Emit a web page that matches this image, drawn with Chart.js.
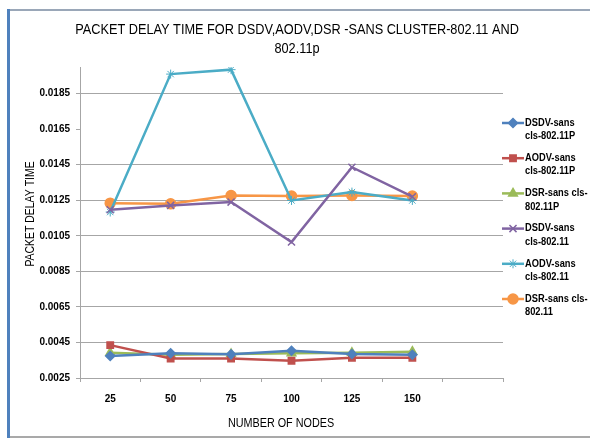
<!DOCTYPE html>
<html>
<head>
<meta charset="utf-8">
<script src="https://cdn.jsdelivr.net/npm/chart.js@4.4.1/dist/chart.umd.min.js"></script>
<style>
  html, body { margin: 0; padding: 0; background: #ffffff; }
  #wrap { width: 590px; height: 439px; position: relative; }
</style>
</head>
<body>
<div id="wrap"><canvas id="c" width="590" height="439"></canvas></div>
<script>
// Number of nodes (the trailing blank category leaves an empty slot on the right)
const nodeCounts = ['25', '50', '75', '100', '125', '150', ''];

// Packet delay time per protocol
const dsdv11p = [0.00374, 0.00389, 0.00383, 0.00403, 0.00385, 0.00381];
const aodv11p = [0.00435, 0.00360, 0.00360, 0.00347, 0.00364, 0.00364];
const dsr11p  = [0.00392, 0.00381, 0.00385, 0.00389, 0.00392, 0.00398];
const dsdv11  = [0.01197, 0.01221, 0.01240, 0.01015, 0.01436, 0.01270];
const aodv11  = [0.01184, 0.01960, 0.01985, 0.01249, 0.01296, 0.01249];
const dsr11   = [0.01234, 0.01230, 0.01277, 0.01274, 0.01277, 0.01274];

// Value axis ticks
const yTicks = [0.0025, 0.0045, 0.0065, 0.0085, 0.0105, 0.0125, 0.0145, 0.0165, 0.0185];

// Series names and their wrapped legend lines
const seriesNames = [
  'DSDV-sans cls-802.11P', 'AODV-sans cls-802.11P', 'DSR-sans cls-802.11P',
  'DSDV-sans cls-802.11', 'AODV-sans cls-802.11', 'DSR-sans cls-802.11'
];
const legendLines = [
  ['DSDV-sans', 'cls-802.11P'],
  ['AODV-sans', 'cls-802.11P'],
  ['DSR-sans cls-', '802.11P'],
  ['DSDV-sans', 'cls-802.11'],
  ['AODV-sans', 'cls-802.11'],
  ['DSR-sans cls-', '802.11']
];

const titleLines = ['PACKET DELAY TIME FOR DSDV,AODV,DSR -SANS CLUSTER-802.11 AND', '802.11p'];
const xTitle = 'NUMBER OF NODES';
const yTitle = 'PACKET DELAY TIME';

const sans = "'Liberation Sans', Arial, sans-serif";
const gridGray = '#a6a6a6';

const styles = [
  { color: '#4f81bd', point: 'rectRot',  radius: 4.5 },
  { color: '#c0504d', point: 'rect',     radius: 4.5 },
  { color: '#9bbb59', point: 'triangle', radius: 5 },
  { color: '#8064a2', point: 'crossRot', radius: 5 },
  { color: '#4bacc6', point: 'star',     radius: 4.5 },
  { color: '#f79646', point: 'circle',   radius: 5 }
];
const seriesData = [dsdv11p, aodv11p, dsr11p, dsdv11, aodv11, dsr11];

const datasets = seriesData.map((d, i) => ({
  label: seriesNames[i],
  data: d,
  borderColor: styles[i].color,
  backgroundColor: styles[i].color,
  borderWidth: 2.5,
  pointStyle: styles[i].point,
  pointRadius: styles[i].radius,
  pointBorderColor: styles[i].color,
  pointBackgroundColor: styles[i].color,
  pointBorderWidth: i === 4 ? 1 : 1.5,
  tension: 0,
  fill: false
}));

// Text squeezed horizontally to a narrow face
function condensedText(ctx, text, x, y, sx) {
  ctx.save();
  ctx.translate(x, y);
  ctx.scale(sx, 1);
  ctx.fillText(text, 0, 0);
  ctx.restore();
}

// Frame, titles and the wrapped legend on the right
const decorations = {
  id: 'decorations',
  beforeDraw(chart) {
    const ctx = chart.ctx;
    ctx.save();
    ctx.fillStyle = '#ffffff';
    ctx.fillRect(0, 0, chart.width, chart.height);
    ctx.strokeStyle = '#9aa7b8';
    ctx.lineWidth = 2;
    ctx.beginPath();
    ctx.moveTo(8, 10); ctx.lineTo(chart.width, 10);
    ctx.stroke();
    ctx.strokeStyle = '#8c8c8c';
    ctx.lineWidth = 1.5;
    ctx.beginPath();
    ctx.moveTo(8, 437); ctx.lineTo(chart.width, 437);
    ctx.stroke();
    ctx.strokeStyle = '#4f81bd';
    ctx.lineWidth = 3;
    ctx.beginPath();
    ctx.moveTo(8.5, 9); ctx.lineTo(8.5, 438);
    ctx.stroke();
    ctx.restore();
  },
  afterDraw(chart) {
    const ctx = chart.ctx;
    ctx.save();
    ctx.fillStyle = '#000000';
    ctx.textAlign = 'center';
    ctx.textBaseline = 'middle';
    ctx.font = '14px ' + sans;
    condensedText(ctx, titleLines[0], 297, 30, 0.91);
    condensedText(ctx, titleLines[1], 297, 49, 0.91);

    ctx.font = '12px ' + sans;
    condensedText(ctx, xTitle, 281, 424, 0.9);
    ctx.save();
    ctx.translate(31, 214);
    ctx.rotate(-Math.PI / 2);
    condensedText(ctx, yTitle, 0, 0, 0.87);
    ctx.restore();

    // legend
    const top0 = 123, step = 35.2, lineGap = 13.5;
    ctx.textAlign = 'left';
    ctx.font = 'bold 10px ' + sans;
    legendLines.forEach((lines, i) => {
      const y = top0 + i * step;
      const st = styles[i];
      ctx.strokeStyle = st.color;
      ctx.fillStyle = st.color;
      ctx.lineWidth = 2.5;
      ctx.beginPath();
      ctx.moveTo(502, y); ctx.lineTo(524, y);
      ctx.stroke();
      ctx.lineWidth = i === 4 ? 1 : 1.5;
      Chart.helpers.drawPoint(ctx, { pointStyle: st.point, radius: st.radius, rotation: 0, borderWidth: ctx.lineWidth }, 513, y);
      ctx.fillStyle = '#000000';
      lines.forEach((t, k) => condensedText(ctx, t, 525, y + k * lineGap, 0.93));
    });
    ctx.restore();
  }
};

new Chart(document.getElementById('c'), {
  type: 'line',
  data: { labels: nodeCounts, datasets },
  options: {
    responsive: false,
    animation: false,
    devicePixelRatio: 1,
    layout: { padding: { top: 67, right: 87, bottom: 0, left: 0 } },
    plugins: {
      legend: { display: false },
      title: { display: false },
      tooltip: { enabled: false }
    },
    scales: {
      x: {
        type: 'category',
        offset: true,
        grid: { display: true, drawOnChartArea: false, offset: true, tickLength: 4, color: gridGray },
        border: { color: gridGray, width: 1 },
        ticks: { color: '#000000', font: { family: sans, size: 10, weight: 'bold' }, padding: 11, autoSkip: false, maxRotation: 0 },
        afterFit(s) { s.height = 61; }
      },
      y: {
        min: 0.0025,
        max: 0.02,
        afterBuildTicks(s) { s.ticks = yTicks.map(v => ({ value: v })); },
        grid: {
          tickLength: 4,
          tickColor: gridGray,
          color: c => (c.tick && Math.abs(c.tick.value - 0.0165) < 1e-9) ? 'rgba(0,0,0,0)' : gridGray
        },
        border: { color: gridGray, width: 1 },
        ticks: {
          color: '#000000',
          font: { family: sans, size: 10, weight: 'bold' },
          padding: 6,
          callback: v => Number(v).toFixed(4)
        },
        afterFit(s) { s.width = 80; }
      }
    }
  },
  plugins: [decorations]
});
</script>
</body>
</html>
